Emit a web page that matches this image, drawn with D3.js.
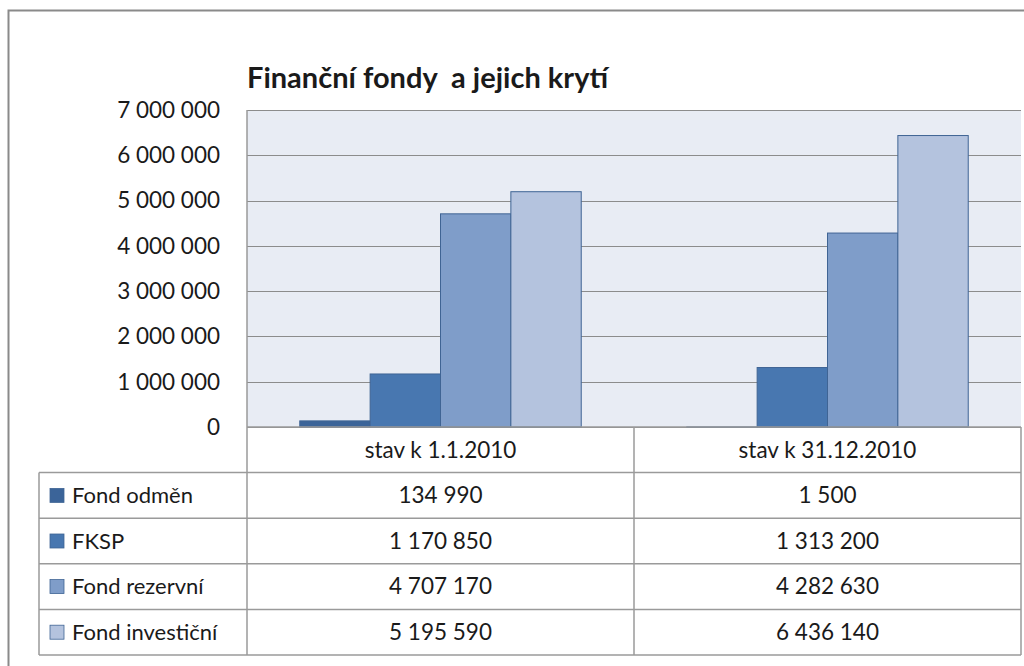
<!DOCTYPE html>
<html>
<head>
<meta charset="utf-8">
<script src="https://cdn.jsdelivr.net/npm/d3@7"></script>
<style>
  body { margin: 0; background: #fff; }
  svg text { font-family: Lato, "Open Sans", sans-serif; fill: #1a1a1a; }
</style>
</head>
<body>
<div id="js_chart"></div>
<script>
const categories = ["stav k 1.1.2010", "stav k 31.12.2010"];
const seriesNames = ["Fond odměn", "FKSP", "Fond rezervní", "Fond investiční"];
const fondOdmen = [134990, 1500];
const fksp = [1170850, 1313200];
const fondRezervni = [4707170, 4282630];
const fondInvesticni = [5195590, 6436140];
const yTicks = [0, 1000000, 2000000, 3000000, 4000000, 5000000, 6000000, 7000000];
const colors = ["#3b6499", "#4877b0", "#7f9dc9", "#b4c3de"];

const seriesValues = [fondOdmen, fksp, fondRezervni, fondInvesticni];
const series = seriesNames.map((name, i) => ({ name, values: seriesValues[i], color: colors[i] }));

const fmt = d3.formatLocale({ decimal: ",", thousands: " ", grouping: [3], currency: ["", ""] }).format(",d");

const svg = d3.select("#js_chart")
  .append("svg")
  .attr("width", 1024)
  .attr("height", 666);

const plotLeft = 247, plotRight = 1021, plotTop = 110, base = 427;

// outer frame
svg.append("path")
  .attr("d", "M8.5,680V10.5H1030")
  .attr("fill", "none")
  .attr("stroke", "#8a8a8a")
  .attr("stroke-width", 2);

svg.append("text")
  .attr("x", plotLeft)
  .attr("y", 88)
  .attr("font-size", 29)
  .attr("font-weight", "bold")
  .attr("xml:space", "preserve")
  .text("Finanční fondy  a jejich krytí");

const x = d3.scaleBand().domain(categories).range([plotLeft, plotRight]);
const xInner = d3.scaleBand().domain(seriesNames).range([0, x.bandwidth()]).paddingOuter(0.75);
const y = d3.scaleLinear().domain([0, 7000000]).range([base, plotTop]);

svg.append("rect")
  .attr("x", plotLeft).attr("y", plotTop)
  .attr("width", plotRight - plotLeft).attr("height", base - plotTop)
  .attr("fill", "#e8ecf4");

svg.append("g")
  .selectAll("line")
  .data(yTicks)
  .join("line")
    .attr("x1", plotLeft).attr("x2", plotRight)
    .attr("y1", d => Math.round(y(d)) + 0.5)
    .attr("y2", d => Math.round(y(d)) + 0.5)
    .attr("stroke", "#8c8c8c")
    .attr("stroke-width", 1.2);

svg.append("g")
  .selectAll("text")
  .data(yTicks)
  .join("text")
    .attr("x", 220)
    .attr("y", d => y(d))
    .attr("dy", "0.35em")
    .attr("text-anchor", "end")
    .attr("font-size", 22.5)
    .text(d => fmt(d));

svg.append("g")
  .selectAll("g")
  .data(series)
  .join("g")
    .attr("fill", d => d.color)
  .selectAll("rect")
  .data(d => d.values.map((v, i) => ({ name: d.name, cat: categories[i], v })))
  .join("rect")
    .attr("x", d => x(d.cat) + xInner(d.name))
    .attr("width", xInner.bandwidth())
    .attr("y", d => y(d.v))
    .attr("height", d => base - y(d.v))
    .attr("stroke", "#3f6494")
    .attr("stroke-width", 1);

// data table
const rows = d3.scaleBand().domain(["header", ...seriesNames]).range([base, 655]);
const tableLeft = 39;
const grid = "#9a9a9a";
const tg = svg.append("g").attr("fill", "none").attr("stroke", grid).attr("stroke-width", 1.5);

tg.append("line").attr("x1", plotLeft).attr("x2", plotRight).attr("y1", base).attr("y2", base);
seriesNames.forEach(n => {
  tg.append("line").attr("x1", tableLeft).attr("x2", plotRight)
    .attr("y1", rows(n)).attr("y2", rows(n));
});
tg.append("line").attr("x1", tableLeft).attr("x2", plotRight)
  .attr("y1", rows.range()[1]).attr("y2", rows.range()[1]);
tg.append("line").attr("x1", tableLeft).attr("x2", tableLeft)
  .attr("y1", rows(seriesNames[0])).attr("y2", rows.range()[1]);
[plotLeft, ...categories.map(c => x(c) + x.bandwidth())].forEach(xx => {
  tg.append("line").attr("x1", xx).attr("x2", xx)
    .attr("y1", xx === plotLeft ? plotTop : base).attr("y2", rows.range()[1]);
});

svg.append("g")
  .selectAll("text")
  .data(categories)
  .join("text")
    .attr("x", d => x(d) + x.bandwidth() / 2)
    .attr("y", rows("header") + rows.bandwidth() / 2)
    .attr("dy", "0.35em")
    .attr("text-anchor", "middle")
    .attr("font-size", 22.5)
    .text(d => d);

const rowG = svg.append("g")
  .selectAll("g")
  .data(series)
  .join("g")
    .attr("transform", d => `translate(0,${rows(d.name) + rows.bandwidth() / 2})`);

rowG.append("rect")
  .attr("x", 50).attr("y", -7)
  .attr("width", 14).attr("height", 14)
  .attr("fill", d => d.color)
  .attr("stroke", "#3f6494")
  .attr("stroke-width", 0.8);

rowG.append("text")
  .attr("x", 72)
  .attr("dy", "0.35em")
  .attr("font-size", 22)
  .text(d => d.name);

rowG.selectAll("text.val")
  .data(d => d.values.map((v, i) => ({ v, cat: categories[i] })))
  .join("text")
    .attr("class", "val")
    .attr("x", d => x(d.cat) + x.bandwidth() / 2)
    .attr("dy", "0.35em")
    .attr("text-anchor", "middle")
    .attr("font-size", 22.5)
    .text(d => fmt(d.v));
</script>
</body>
</html>
